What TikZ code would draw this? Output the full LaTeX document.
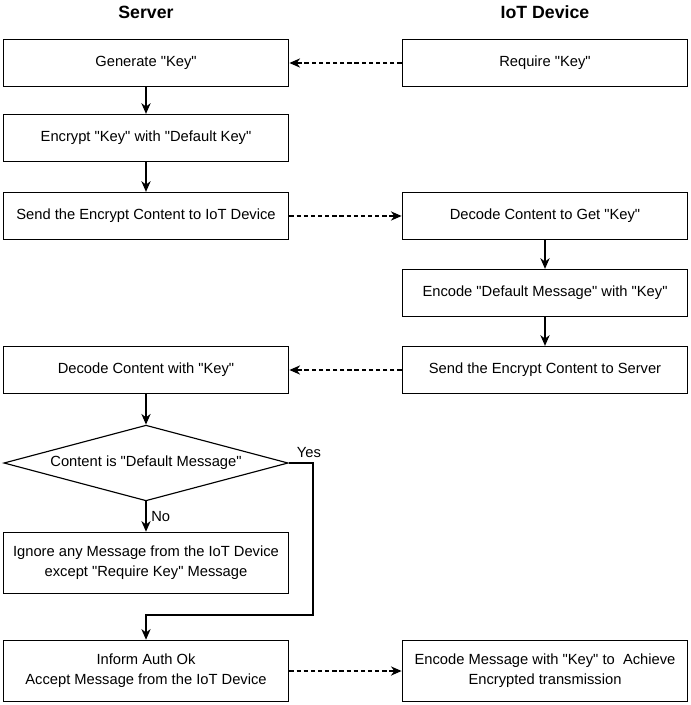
\documentclass[tikz,border=0pt]{standalone}
\usepackage{fontspec}
\setmainfont{Liberation Sans}[Ligatures=TeXOff]
\usepackage{tikz}
\usetikzlibrary{arrows.meta,shapes.geometric}

\begin{document}
\begin{tikzpicture}[x=0.7pt, y=-0.7pt, >={Stealth[length=7.5pt,width=6.5pt]},
    font=\fontsize{10.3}{14}\selectfont,
    box/.style={draw, line width=0.8pt, minimum width=200pt, minimum height=33pt, align=center, inner sep=2pt},
    tallbox/.style={box, minimum height=43pt},
    flow/.style={->, line width=0.8pt},
    msg/.style={->, line width=0.8pt, dash pattern=on 3pt off 2pt}]
    \useasboundingbox (0,0) rectangle (690,705);
    \node[font=\fontsize{12.4}{14}\selectfont\bfseries] (srvtitle) at (146,12) {Server};
    \node[font=\fontsize{12.4}{14}\selectfont\bfseries] (devtitle) at (545,12) {IoT Device};
    % server side
    \node[box] (gen) at (146,63) {Generate "Key"};
    \node[box] (enc) at (146,138) {Encrypt "Key" with "Default Key"};
    \node[box] (send) at (146,216) {Send the Encrypt Content to IoT Device};
    \node[box] (decsrv) at (146,370) {Decode Content with "Key"};
    \node[diamond, draw, line width=0.8pt, aspect=3.7, inner sep=0pt, minimum width=199pt, minimum height=53pt] (check) at (146,463) {Content is "Default Message"};
    \node[tallbox] (ignore) at (146,563) {Ignore any Message from the IoT Device\\except "Require Key" Message};
    \node[tallbox] (inform) at (146,671) {Inform Auth Ok\\Accept Message from the IoT Device};
    % device side
    \node[box] (req) at (545,63) {Require "Key"};
    \node[box] (dec) at (545,216) {Decode Content to Get "Key"};
    \node[box] (encmsg) at (545,293) {Encode "Default Message" with "Key"};
    \node[box] (senddev) at (545,370) {Send the Encrypt Content to Server};
    \node[tallbox] (encfin) at (545,671) {Encode Message with "Key" to~~Achieve\\Encrypted transmission};
    \coordinate (yesbend) at (313,615);
    \draw[flow] (gen) -- (enc);
    \draw[flow] (enc) -- (send);
    \draw[flow] (dec) -- (encmsg);
    \draw[flow] (encmsg) -- (senddev);
    \draw[flow] (decsrv) -- (check);
    \draw[flow] (check) -- node[right] {No} (ignore);
    \draw[flow] (check.east) node[above right, xshift=2pt] {Yes} -| (yesbend) -| (inform.north);
    \draw[msg] (req) -- (gen);
    \draw[msg] (send) -- (dec);
    \draw[msg] (senddev) -- (decsrv);
    \draw[msg] (inform) -- (encfin);
\end{tikzpicture}
\end{document}
